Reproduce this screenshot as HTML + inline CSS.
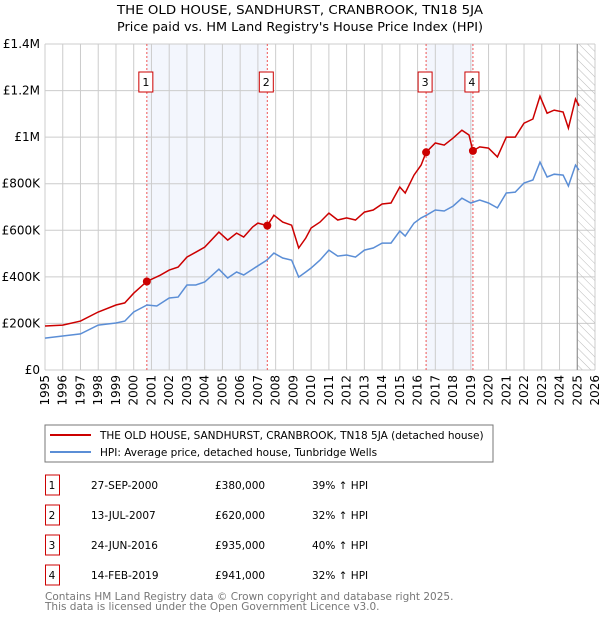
<!DOCTYPE html>
<html><head><meta charset="utf-8"><style>
body{margin:0;background:#fff;width:600px;height:620px;overflow:hidden;font-family:"DejaVu Sans","Liberation Sans",sans-serif}
svg text{font-family:"DejaVu Sans","Liberation Sans",sans-serif}
</style></head><body>
<svg id="c" width="600" height="620" xmlns="http://www.w3.org/2000/svg">
<defs><pattern id="hatch" width="6" height="6" patternUnits="userSpaceOnUse" patternTransform="rotate(-45)"><line x1="0" y1="0" x2="0" y2="6" stroke="#bbb" stroke-width="1"/></pattern></defs>
<text x="300" y="14" text-anchor="middle" font-size="12" textLength="366" lengthAdjust="spacingAndGlyphs">THE OLD HOUSE, SANDHURST, CRANBROOK, TN18 5JA</text>
<text x="300" y="31" text-anchor="middle" font-size="12" textLength="366" lengthAdjust="spacingAndGlyphs">Price paid vs. HM Land Registry's House Price Index (HPI)</text>
<g id="plot"></g>
<rect x="45" y="425" width="448" height="37" fill="#fff" stroke="#777"/>
<line x1="50" y1="435" x2="91" y2="435" stroke="#cc0000" stroke-width="2"/>
<text x="100" y="439" font-size="10.5">THE OLD HOUSE, SANDHURST, CRANBROOK, TN18 5JA (detached house)</text>
<line x1="50" y1="452" x2="91" y2="452" stroke="#5b8ed6" stroke-width="2"/>
<text x="100" y="456" font-size="10.5">HPI: Average price, detached house, Tunbridge Wells</text>
<g id="table" font-size="10.5"></g>
<text x="45" y="600" font-size="10.5" fill="#777">Contains HM Land Registry data © Crown copyright and database right 2025.</text>
<text x="45" y="610" font-size="10.5" fill="#777">This data is licensed under the Open Government Licence v3.0.</text>
</svg>
<script>
const redYears=[1995,1996,1997,1998,1999,1999.5,2000,2000.74,2001.5,2002,2002.5,2003,2003.5,2004,2004.8,2005.3,2005.8,2006.2,2006.7,2007.0,2007.53,2007.9,2008.4,2008.9,2009.3,2009.7,2010,2010.5,2011,2011.5,2012,2012.5,2013,2013.5,2014,2014.5,2015,2015.3,2015.8,2016.2,2016.48,2017,2017.5,2018,2018.5,2018.9,2019.12,2019.5,2020,2020.5,2021,2021.5,2022,2022.5,2022.9,2023.3,2023.7,2024.2,2024.5,2024.9,2025.1];
const redValues=[189,193,210,249,279,288,330,380,407,429,442,485,506,528,592,558,588,571,614,631,620,665,635,622,524,567,610,635,674,644,653,644,678,687,713,717,786,760,837,880,935,975,966,996,1030,1009,941,958,953,915,1000,1000,1060,1078,1176,1103,1116,1108,1039,1164,1134];
const hpiYears=[1995,1996,1997,1998,1999,1999.5,2000,2000.75,2001.3,2002,2002.5,2003,2003.5,2004,2004.8,2005.3,2005.8,2006.2,2006.7,2007.5,2007.9,2008.4,2008.9,2009.3,2009.7,2010,2010.5,2011,2011.5,2012,2012.5,2013,2013.5,2014,2014.5,2015,2015.3,2015.8,2016.2,2016.5,2017,2017.5,2018,2018.5,2019,2019.5,2020,2020.5,2021,2021.5,2022,2022.5,2022.9,2023.3,2023.7,2024.2,2024.5,2024.9,2025.1];
const hpiValues=[137,146,155,193,202,210,249,279,275,309,313,365,365,378,433,395,421,408,433,472,502,481,472,399,421,438,472,515,489,494,485,515,524,545,545,597,575,631,653,665,687,683,704,738,717,730,717,696,760,764,803,816,893,829,841,837,790,880,859];
const saleLabels=["1","2","3","4"];
const saleYears=[2000.74,2007.53,2016.48,2019.12];
const salePrices=[380,620,935,941];
const saleDates=["27-SEP-2000","13-JUL-2007","24-JUN-2016","14-FEB-2019"];
const salePriceText=["£380,000","£620,000","£935,000","£941,000"];
const saleHpiText=["39% ↑ HPI","32% ↑ HPI","40% ↑ HPI","32% ↑ HPI"];
const yTicks=[0,200,400,600,800,1000,1200,1400];
const yTickLabels=["£0","£200K","£400K","£600K","£800K","£1M","£1.2M","£1.4M"];
const xTicks=[1995,1996,1997,1998,1999,2000,2001,2002,2003,2004,2005,2006,2007,2008,2009,2010,2011,2012,2013,2014,2015,2016,2017,2018,2019,2020,2021,2022,2023,2024,2025,2026];

const NS="http://www.w3.org/2000/svg";
const L=45,R=595,T=44,B=370;
const x=v=>L+(v-1995)*(R-L)/31;
const y=v=>B-v*(B-T)/1400;
const g=document.getElementById('plot');
function mk(tag,at,parent){const e=document.createElementNS(NS,tag);for(const k in at)e.setAttribute(k,at[k]);(parent||g).appendChild(e);return e;}
for(const [a,b] of [[0,1],[2,3]]){
 const r=mk('rect',{x:x(saleYears[a]),y:T,width:x(saleYears[b])-x(saleYears[a]),height:B-T,fill:'#f3f6fd'});
 
 
}
yTicks.forEach((v,i)=>{
 const l=mk('line',{x1:L,x2:R,y1:y(v),y2:y(v),stroke:'#ccc'});
 
 
 const t=mk('text',{x:L-5,y:y(v)+4,'text-anchor':'end','font-size':12});
 t.textContent=yTickLabels[i];
 
 
});
xTicks.forEach(v=>{
 const l=mk('line',{x1:x(v),x2:x(v),y1:T,y2:B,stroke:'#ccc'});
 
 
 const t=mk('text',{x:0,y:0,'text-anchor':'end','font-size':12,transform:`translate(${x(v)+4},${B+5}) rotate(-90)`});
 t.textContent=v;
 
 
});
const h=mk('rect',{x:x(2025),y:T,width:R-x(2025),height:B-T,fill:'url(#hatch)'});


const hl=mk('line',{x1:x(2025),x2:x(2025),y1:T,y2:B,stroke:'#888'});


saleYears.forEach((v,i)=>{
 const l=mk('line',{x1:x(v),x2:x(v),y1:T,y2:B,stroke:'#e55','stroke-dasharray':'2,2'});
 
 
 const bx=mk('rect',{x:x(v)-8,y:72,width:14,height:20,fill:'#fff',stroke:'#cc0000'});
 
 
 const t=mk('text',{x:x(v)-1,y:86,'text-anchor':'middle','font-size':11});
 t.textContent=saleLabels[i];
 
 
});
const path=(xs,vs)=>xs.map((a,i)=>(i?'L':'M')+x(a).toFixed(1)+','+y(vs[i]).toFixed(1)).join('');
const hp=mk('path',{d:path(hpiYears,hpiValues),fill:'none',stroke:'#5b8ed6','stroke-width':1.5});


const rp=mk('path',{d:path(redYears,redValues),fill:'none',stroke:'#cc0000','stroke-width':1.5});


saleYears.forEach((v,i)=>{
 const c=mk('circle',{cx:x(v),cy:y(salePrices[i]),r:4,fill:'#cc0000'});
 
 
});
const tb=document.getElementById('table');
saleLabels.forEach((s,i)=>{
 const yy=475+i*30;
 const b=mk('rect',{x:45.5,y:yy,width:14,height:20,fill:'#fff',stroke:'#cc0000'},tb);
 
 
 const cells=[[52,s,'middle'],[91,saleDates[i],'start'],[215,salePriceText[i],'start'],[312,saleHpiText[i],'start']];
 cells.forEach((c,j)=>{
  const t=mk('text',{x:c[0],y:yy+14,'text-anchor':c[2]},tb);
  t.textContent=c[1];
  
  
 });
});
</script>
</body></html>
